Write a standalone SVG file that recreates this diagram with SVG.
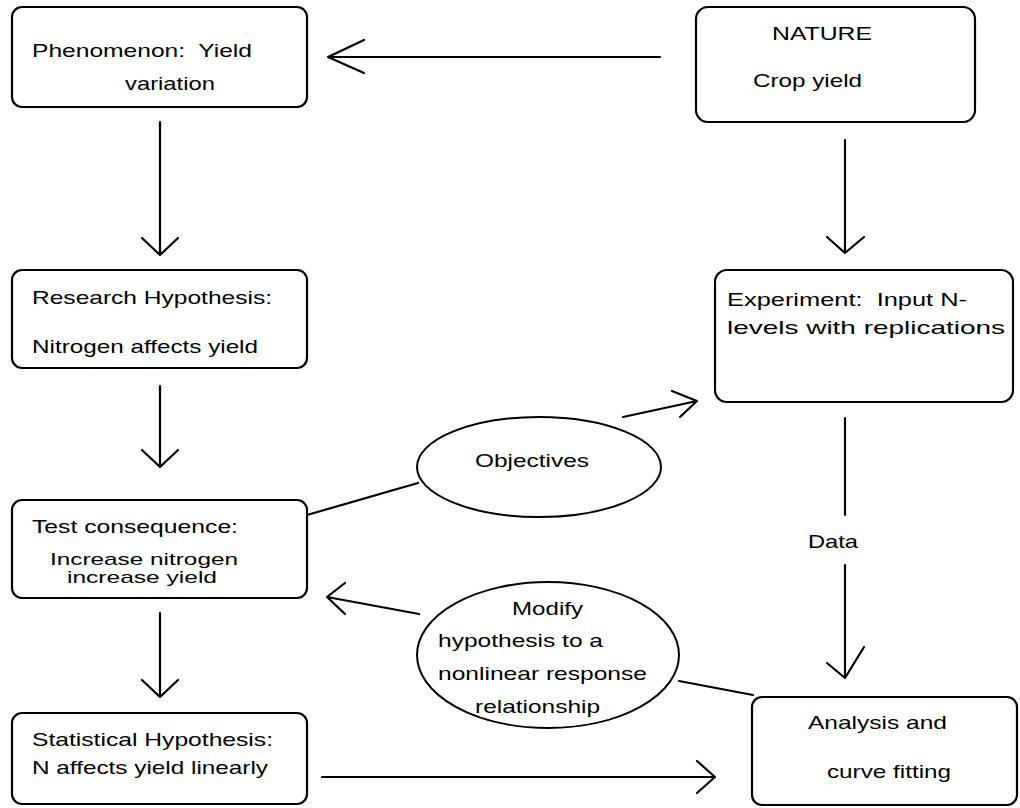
<svg xmlns="http://www.w3.org/2000/svg" width="1020" height="808" viewBox="0 0 1020 808">
<style>
.box{fill:#fff;stroke:#000;stroke-width:2.2}
.ell{fill:#fff;stroke:#000;stroke-width:2}
.ln{fill:none;stroke:#000;stroke-width:2.2;stroke-linecap:round;stroke-linejoin:round}
text{font-family:"Liberation Sans",Arial,sans-serif;font-size:19px;fill:#000}
.sm{font-size:17px}
</style>
<rect width="1020" height="808" fill="#fff"/>
<g id="connectors">
<path class="ln" d="M660,57 H328 M364,40 L328,57 L364,73"/>
<path class="ln" d="M845,140 V253 M827,237 L845,253 L864,237"/>
<path class="ln" d="M160,122 V255 M142,238 L160,255 L178,238"/>
<path class="ln" d="M160,386 V467 M142,450 L160,467 L178,450"/>
<path class="ln" d="M160,613 V697 M142,680 L160,697 L178,680"/>
<path class="ln" d="M322,777 H715 M697,761 L715,777 L697,793"/>
<path class="ln" d="M307,515 L418,483"/>
<path class="ln" d="M623,417 L697,401 M672,391 L697,401 L680,417"/>
<path class="ln" d="M845,418 V515"/>
<text x="808" y="548" textLength="50" lengthAdjust="spacingAndGlyphs">Data</text>
<path class="ln" d="M845,565 V678 M827,663 L845,678 L864,647"/>
<path class="ln" d="M419,614 L327,597 M345,583 L327,597 L345,614"/>
<path class="ln" d="M679,681 L753,695"/>
</g>
<g id="phenomenon">
<rect class="box" x="12" y="7" width="295" height="100" rx="10"/>
<text x="32" y="57" textLength="220" lengthAdjust="spacingAndGlyphs" xml:space="preserve">Phenomenon:  Yield</text>
<text x="125" y="90" textLength="90" lengthAdjust="spacingAndGlyphs">variation</text>
</g>
<g id="nature">
<rect class="box" x="696" y="7" width="279" height="115" rx="12"/>
<text x="772" y="40" textLength="100" lengthAdjust="spacingAndGlyphs">NATURE</text>
<text x="753" y="87" textLength="109" lengthAdjust="spacingAndGlyphs">Crop yield</text>
</g>
<g id="research">
<rect class="box" x="12" y="270" width="295" height="98" rx="10"/>
<text x="32" y="304" textLength="240" lengthAdjust="spacingAndGlyphs">Research Hypothesis:</text>
<text x="32" y="353" textLength="226" lengthAdjust="spacingAndGlyphs">Nitrogen affects yield</text>
</g>
<g id="experiment">
<rect class="box" x="715" y="270" width="298" height="132" rx="12"/>
<text x="727" y="306" textLength="240" lengthAdjust="spacingAndGlyphs" xml:space="preserve">Experiment:  Input N-</text>
<text x="727" y="334" textLength="278" lengthAdjust="spacingAndGlyphs">levels with replications</text>
</g>
<g id="objectives">
<ellipse class="ell" cx="539" cy="467" rx="122" ry="50"/>
<text x="475" y="467" textLength="114" lengthAdjust="spacingAndGlyphs">Objectives</text>
</g>
<g id="test">
<rect class="box" x="12" y="500" width="295" height="98" rx="10"/>
<text x="32" y="533" textLength="206" lengthAdjust="spacingAndGlyphs">Test consequence:</text>
<text class="sm" x="50" y="565" textLength="188" lengthAdjust="spacingAndGlyphs">Increase nitrogen</text>
<text class="sm" x="67" y="583" textLength="150" lengthAdjust="spacingAndGlyphs">increase yield</text>
</g>
<g id="modify">
<ellipse class="ell" cx="548" cy="655" rx="131" ry="73"/>
<text x="512" y="615" textLength="71" lengthAdjust="spacingAndGlyphs">Modify</text>
<text x="438" y="647" textLength="165" lengthAdjust="spacingAndGlyphs">hypothesis to a</text>
<text x="438" y="680" textLength="209" lengthAdjust="spacingAndGlyphs">nonlinear response</text>
<text x="475" y="713" textLength="125" lengthAdjust="spacingAndGlyphs">relationship</text>
</g>
<g id="statistical">
<rect class="box" x="12" y="713" width="295" height="91" rx="10"/>
<text x="32" y="746" textLength="241" lengthAdjust="spacingAndGlyphs">Statistical Hypothesis:</text>
<text x="32" y="774" textLength="236" lengthAdjust="spacingAndGlyphs">N affects yield linearly</text>
</g>
<g id="analysis">
<rect class="box" x="752" y="697" width="265" height="108" rx="10"/>
<text x="808" y="729" textLength="139" lengthAdjust="spacingAndGlyphs">Analysis and</text>
<text x="827" y="778" textLength="124" lengthAdjust="spacingAndGlyphs">curve fitting</text>
</g>
</svg>
